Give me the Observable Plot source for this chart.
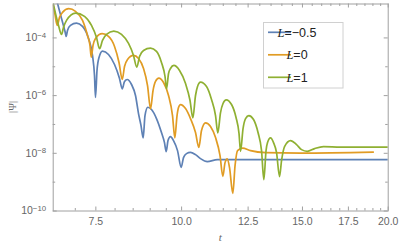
<!DOCTYPE html>
<html><head><meta charset="utf-8">
<script src="https://cdn.jsdelivr.net/npm/d3@7"></script>
<script src="https://cdn.jsdelivr.net/npm/@observablehq/plot@0.6"></script>
<style>html,body{margin:0;padding:0;background:#fff}svg{display:block}</style>
</head><body><div id="chart"></div>
<script>
const seriesNames = ["L=\u22120.5", "L=0", "L=1"];
const legendValues = ["=\u22120.5", "=0", "=1"];
const seriesColors = ["#5E81B5", "#E19C24", "#8FB032"];

const tBlue = [6.5, 6.594, 6.684, 6.763, 6.790, 6.819, 6.888, 7.029, 7.172, 7.318, 7.416, 7.466, 7.491, 7.529, 7.580, 7.669, 7.825, 7.985, 8.120, 8.194, 8.257, 8.332, 8.453, 8.567, 8.654, 8.727, 8.791, 8.844, 8.928, 9.039, 9.192, 9.347, 9.442, 9.496, 9.554, 9.634, 9.732, 9.864, 9.986, 10.064, 10.165, 10.303, 10.478, 10.655, 10.899, 11.274, 20.0];
const psiBlue = [5.24e-3, 1.58e-3, 4.75e-4, 1.68e-4, 1.13e-4, 1.82e-4, 2.72e-4, 3.27e-4, 2.51e-4, 9.6e-5, 2.47e-5, 4.99e-6, 8.6e-7, 7.45e-6, 2.10e-5, 3.48e-5, 2.67e-5, 1.20e-5, 3.93e-6, 1.72e-6, 3.09e-6, 3.62e-6, 2.43e-6, 1.01e-6, 2.39e-7, 9.16e-8, 3.43e-8, 2.04e-7, 3.95e-7, 3.29e-7, 1.60e-7, 5.24e-8, 2.35e-8, 1.15e-8, 2.76e-8, 3.80e-8, 2.76e-8, 1.24e-8, 3.27e-9, 7.10e-9, 9.77e-9, 1.08e-8, 9.0e-9, 6.55e-9, 5.15e-9, 6.04e-9, 6.04e-9];

const tOrange = [6.5, 6.539, 6.588, 6.639, 6.706, 6.849, 7.005, 7.172, 7.293, 7.354, 7.384, 7.429, 7.491, 7.662, 7.825, 7.985, 8.106, 8.194, 8.257, 8.341, 8.510, 8.654, 8.801, 8.920, 9.010, 9.086, 9.162, 9.264, 9.412, 9.571, 9.700, 9.775, 9.848, 9.897, 9.964, 10.133, 10.303, 10.478, 10.595, 10.691, 10.836, 11.019, 11.206, 11.376, 11.484, 11.569, 11.654, 11.745, 11.875, 11.964, 12.064, 12.269, 12.602, 13.253, 14.905, 19.023];
const psiOrange = [1.34e-3, 6.55e-4, 2.72e-4, 5.15e-4, 7.67e-4, 1.03e-3, 8.32e-4, 4.06e-4, 1.22e-4, 5.50e-5, 2.15e-5, 5.50e-5, 9.6e-5, 1.40e-4, 1.13e-4, 5.07e-5, 1.41e-5, 3.62e-6, 1.02e-5, 1.79e-5, 2.47e-5, 1.94e-5, 8.73e-6, 2.24e-6, 3.48e-7, 1.50e-6, 3.09e-6, 4.02e-6, 2.85e-6, 1.01e-6, 2.04e-7, 3.43e-8, 2.04e-7, 3.86e-7, 4.91e-7, 3.56e-7, 1.60e-7, 5.24e-8, 1.61e-8, 6.14e-8, 1.14e-7, 8.45e-8, 3.51e-8, 8.32e-9, 1.59e-9, 4.75e-9, 6.40e-9, 3.18e-9, 4.08e-10, 3.74e-9, 1.24e-8, 1.52e-8, 1.24e-8, 1.06e-8, 1.02e-8, 1.10e-8];

const tGreen = [6.5, 6.550, 6.617, 6.684, 6.729, 6.797, 7.005, 7.220, 7.391, 7.517, 7.593, 7.669, 7.773, 7.966, 8.174, 8.369, 8.510, 8.605, 8.683, 8.801, 9.010, 9.192, 9.347, 9.459, 9.507, 9.571, 9.634, 9.743, 9.931, 10.133, 10.287, 10.384, 10.478, 10.549, 10.655, 10.872, 11.056, 11.206, 11.292, 11.395, 11.491, 11.615, 11.824, 12.004, 12.125, 12.186, 12.289, 12.393, 12.531, 12.730, 12.923, 13.076, 13.177, 13.275, 13.342, 13.477, 13.613, 13.751, 13.890, 13.984, 14.125, 14.413, 14.706, 14.955, 15.244, 15.622, 16.101, 17.046, 20.0];
const psiGreen = [1.58e-3, 7.10e-4, 2.72e-4, 1.32e-4, 2.32e-4, 4.06e-4, 7.26e-4, 5.58e-4, 2.72e-4, 1.04e-4, 4.22e-5, 8.19e-5, 1.32e-4, 1.72e-4, 1.32e-4, 6.44e-5, 2.47e-5, 9.68e-6, 2.28e-5, 3.68e-5, 4.43e-5, 3.40e-5, 1.41e-5, 4.60e-6, 1.72e-6, 5.85e-6, 8.73e-6, 1.11e-5, 7.45e-6, 2.63e-6, 6.76e-7, 1.69e-7, 1.01e-6, 2.07e-6, 2.92e-6, 2.07e-6, 7.33e-7, 2.04e-7, 5.11e-8, 2.59e-7, 5.32e-7, 7.15e-7, 4.91e-7, 1.74e-7, 4.83e-8, 1.17e-8, 7.21e-8, 1.60e-7, 2.04e-7, 1.48e-7, 5.24e-8, 1.24e-8, 1.22e-9, 1.24e-8, 2.35e-8, 3.43e-8, 2.35e-8, 1.06e-8, 1.55e-9, 5.58e-9, 1.71e-8, 2.76e-8, 2.00e-8, 1.34e-8, 1.17e-8, 1.46e-8, 1.71e-8, 1.64e-8, 1.64e-8];

const xMajorTicks = [7.5, 10, 12.5, 15, 17.5, 20];
const xMinorTicks = [7, 8, 8.5, 9, 9.5, 10.5, 11, 11.5, 12, 13, 13.5, 14, 14.5, 15.5, 16, 16.5, 17, 18, 18.5, 19, 19.5];
const yMajorTicks = [1e-10, 1e-8, 1e-6, 1e-4];
const yMinorTicks = [1e-9, 1e-7, 1e-5];
const xDomain = [6.5, 20];
const yDomain = [1e-10, 1.5e-3];

const W = 399, H = 246, mL = 52.7, mR = 11.3, mT = 3.5, mB = 35.5;
const fw = W - mL - mR, fh = H - mT - mB;
const frameColor = "#a0a0a0", labelColor = "#666";

const data = [
  ...tBlue.map((t, i) => ({t, psi: psiBlue[i], series: seriesNames[0]})),
  ...tOrange.map((t, i) => ({t, psi: psiOrange[i], series: seriesNames[1]})),
  ...tGreen.map((t, i) => ({t, psi: psiGreen[i], series: seriesNames[2]}))
];

const majLen = 4, minLen = 2.5;
const chart = Plot.plot({
  width: W, height: H,
  marginLeft: mL, marginRight: mR, marginTop: mT, marginBottom: mB,
  style: {fontFamily: "'Liberation Sans', Arial, sans-serif", fontSize: "10.5px", color: labelColor, background: "#fff"},
  x: {type: "log", domain: xDomain},
  y: {type: "log", domain: yDomain},
  color: {domain: seriesNames, range: seriesColors},
  marks: [
    Plot.line(data, {x: "t", y: "psi", z: "series", stroke: "series", strokeWidth: 1.7, clip: true, strokeLinejoin: "round", curve: "monotone-x"}),
    Plot.frame({stroke: frameColor, strokeWidth: 1}),
    Plot.ruleX(xMajorTicks, {x: d => d, insetTop: fh - majLen, stroke: frameColor}),
    Plot.ruleX(xMinorTicks, {x: d => d, insetTop: fh - minLen, stroke: frameColor}),
    Plot.ruleX(xMajorTicks, {x: d => d, insetBottom: fh - majLen, stroke: frameColor}),
    Plot.ruleX(xMinorTicks, {x: d => d, insetBottom: fh - minLen, stroke: frameColor}),
    Plot.ruleY(yMajorTicks, {y: d => d, insetRight: fw - majLen, stroke: frameColor}),
    Plot.ruleY(yMinorTicks, {y: d => d, insetRight: fw - minLen, stroke: frameColor}),
    Plot.ruleY(yMajorTicks, {y: d => d, insetLeft: fw - majLen, stroke: frameColor}),
    Plot.ruleY(yMinorTicks, {y: d => d, insetLeft: fw - minLen, stroke: frameColor}),
    Plot.axisX({ticks: xMajorTicks, tickSize: 0, tickPadding: 7, tickFormat: d3.format(".1f"), label: null}),
    Plot.axisY({ticks: yMajorTicks, tickSize: 0, tickPadding: 7, tickFormat: d => "10^" + Math.round(Math.log10(d)), label: null})
  ]
});

const svg = d3.select(chart);
svg.selectAll('g[aria-label="y-axis tick label"] text').each(function() {
  const s = this.textContent;
  const e = s.split("^")[1].replace("-", "\u2212");
  const t = d3.select(this);
  t.text("");
  t.append("tspan").text("10");
  t.append("tspan").attr("dy", "-0.45em").attr("font-size", "0.75em").text(e);
});

const xs = chart.scale("x"), ys = chart.scale("y");
svg.append("text")
  .attr("x", (xs.range[0] + xs.range[1]) / 2).attr("y", 237.5)
  .attr("text-anchor", "middle").attr("dy", "0.35em")
  .attr("fill", labelColor).attr("font-family", "'Liberation Serif', serif")
  .attr("font-style", "italic").attr("font-size", 11).text("t");
svg.append("text")
  .attr("transform", `translate(12,${(ys.range[0] + ys.range[1]) / 2}) rotate(-90)`)
  .attr("text-anchor", "middle").attr("dy", "0.35em")
  .attr("fill", labelColor).attr("font-family", "'Liberation Serif', serif")
  .attr("font-size", 10.5).text("|\u03A8|");

const lg = svg.append("g");
lg.append("rect").attr("x", 263.5).attr("y", 22.5).attr("width", 79.5).attr("height", 65.5)
  .attr("fill", "#fff").attr("stroke", "#d0d0d0").attr("stroke-width", 1);
seriesNames.forEach((n, i) => {
  const yy = 32.3 + i * 22.5;
  lg.append("line").attr("x1", 268).attr("x2", 291).attr("y1", yy).attr("y2", yy)
    .attr("stroke", seriesColors[i]).attr("stroke-width", 1.7);
  const tx = lg.append("text").attr("x", 297).attr("y", yy).attr("dy", "0.36em")
    .attr("fill", "#222").attr("font-size", 12.5).attr("font-family", "'Liberation Sans', Arial, sans-serif");
  tx.append("tspan").attr("font-family", "'Liberation Serif', serif").attr("font-style", "italic").text("L");
  tx.append("tspan").text(legendValues[i]);
});

document.getElementById("chart").appendChild(chart);
</script>
</body></html>
